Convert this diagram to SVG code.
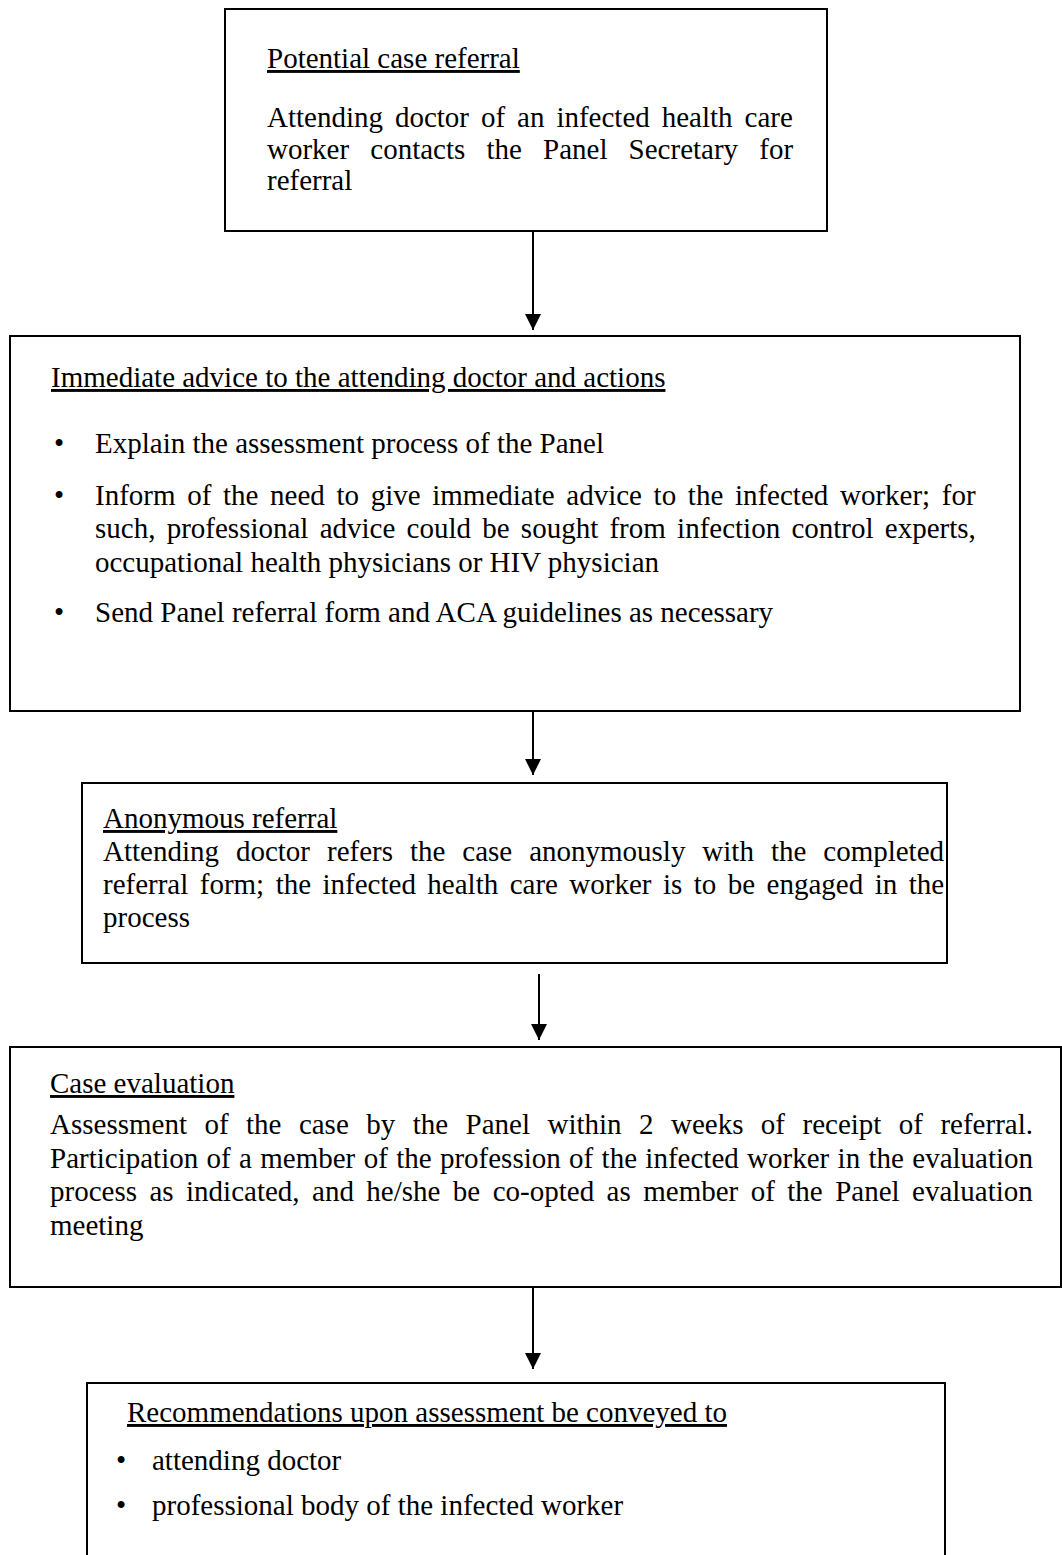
<svg xmlns="http://www.w3.org/2000/svg" width="1062" height="1555" viewBox="0 0 1062 1555">
<style>
.box{fill:#fff;stroke:#000;stroke-width:2}
text{font-family:"Liberation Serif","Times New Roman",serif;font-size:29px;fill:#000}
.t{text-decoration:underline}
.conn line{stroke:#000;stroke-width:2}
</style>
<defs>
<marker id="ah" viewBox="0 0 16 16" refX="16" refY="8" markerWidth="16" markerHeight="16" markerUnits="userSpaceOnUse" orient="auto">
<path d="M0,0 L16,8 L0,16 Z" fill="#000"/>
</marker>
</defs>
<rect width="1062" height="1555" fill="#fff"/>
<g id="n1">
<rect class="box" x="225" y="9" width="602" height="222"/>
<text class="t" x="267" y="68">Potential case referral</text>
<text x="267" y="127" word-spacing="4.7">Attending doctor of an infected health care</text>
<text x="267" y="159" word-spacing="13.9">worker contacts the Panel Secretary for</text>
<text x="267" y="190">referral</text>
</g>
<g id="n2">
<rect class="box" x="10" y="336" width="1010" height="375"/>
<text class="t" x="51" y="387">Immediate advice to the attending doctor and actions</text>
<text x="54" y="453">•</text><text x="95" y="453">Explain the assessment process of the Panel</text>
<text x="54" y="505">•</text><text x="95" y="505" word-spacing="4.4">Inform of the need to give immediate advice to the infected worker; for</text>
<text x="95" y="538" word-spacing="4.0">such, professional advice could be sought from infection control experts,</text>
<text x="95" y="572">occupational health physicians or HIV physician</text>
<text x="54" y="622">•</text><text x="95" y="622">Send Panel referral form and ACA guidelines as necessary</text>
</g>
<g id="n3">
<rect class="box" x="82" y="783" width="865" height="180"/>
<text class="t" x="103" y="828">Anonymous referral</text>
<text x="103" y="861" word-spacing="9.7">Attending doctor refers the case anonymously with the completed</text>
<text x="103" y="894" word-spacing="4.2">referral form; the infected health care worker is to be engaged in the</text>
<text x="103" y="927">process</text>
</g>
<g id="n4">
<rect class="box" x="10" y="1047" width="1051" height="240"/>
<text class="t" x="50" y="1093">Case evaluation</text>
<text x="50" y="1134" word-spacing="10.2">Assessment of the case by the Panel within 2 weeks of receipt of referral.</text>
<text x="50" y="1168" word-spacing="1.1">Participation of a member of the profession of the infected worker in the evaluation</text>
<text x="50" y="1201" word-spacing="5.2">process as indicated, and he/she be co-opted as member of the Panel evaluation</text>
<text x="50" y="1235">meeting</text>
</g>
<g id="n5">
<rect class="box" x="87" y="1383" width="858" height="240"/>
<text class="t" x="127" y="1422">Recommendations upon assessment be conveyed to</text>
<text x="116" y="1470">•</text><text x="152" y="1470">attending doctor</text>
<text x="116" y="1515">•</text><text x="152" y="1515">professional body of the infected worker</text>
</g>
<g class="conn" id="connectors">
<line x1="533" y1="231" x2="533" y2="330" marker-end="url(#ah)"/>
<line x1="533" y1="711" x2="533" y2="775" marker-end="url(#ah)"/>
<line x1="539" y1="974" x2="539" y2="1040" marker-end="url(#ah)"/>
<line x1="533" y1="1287" x2="533" y2="1369" marker-end="url(#ah)"/>
</g>
</svg>
